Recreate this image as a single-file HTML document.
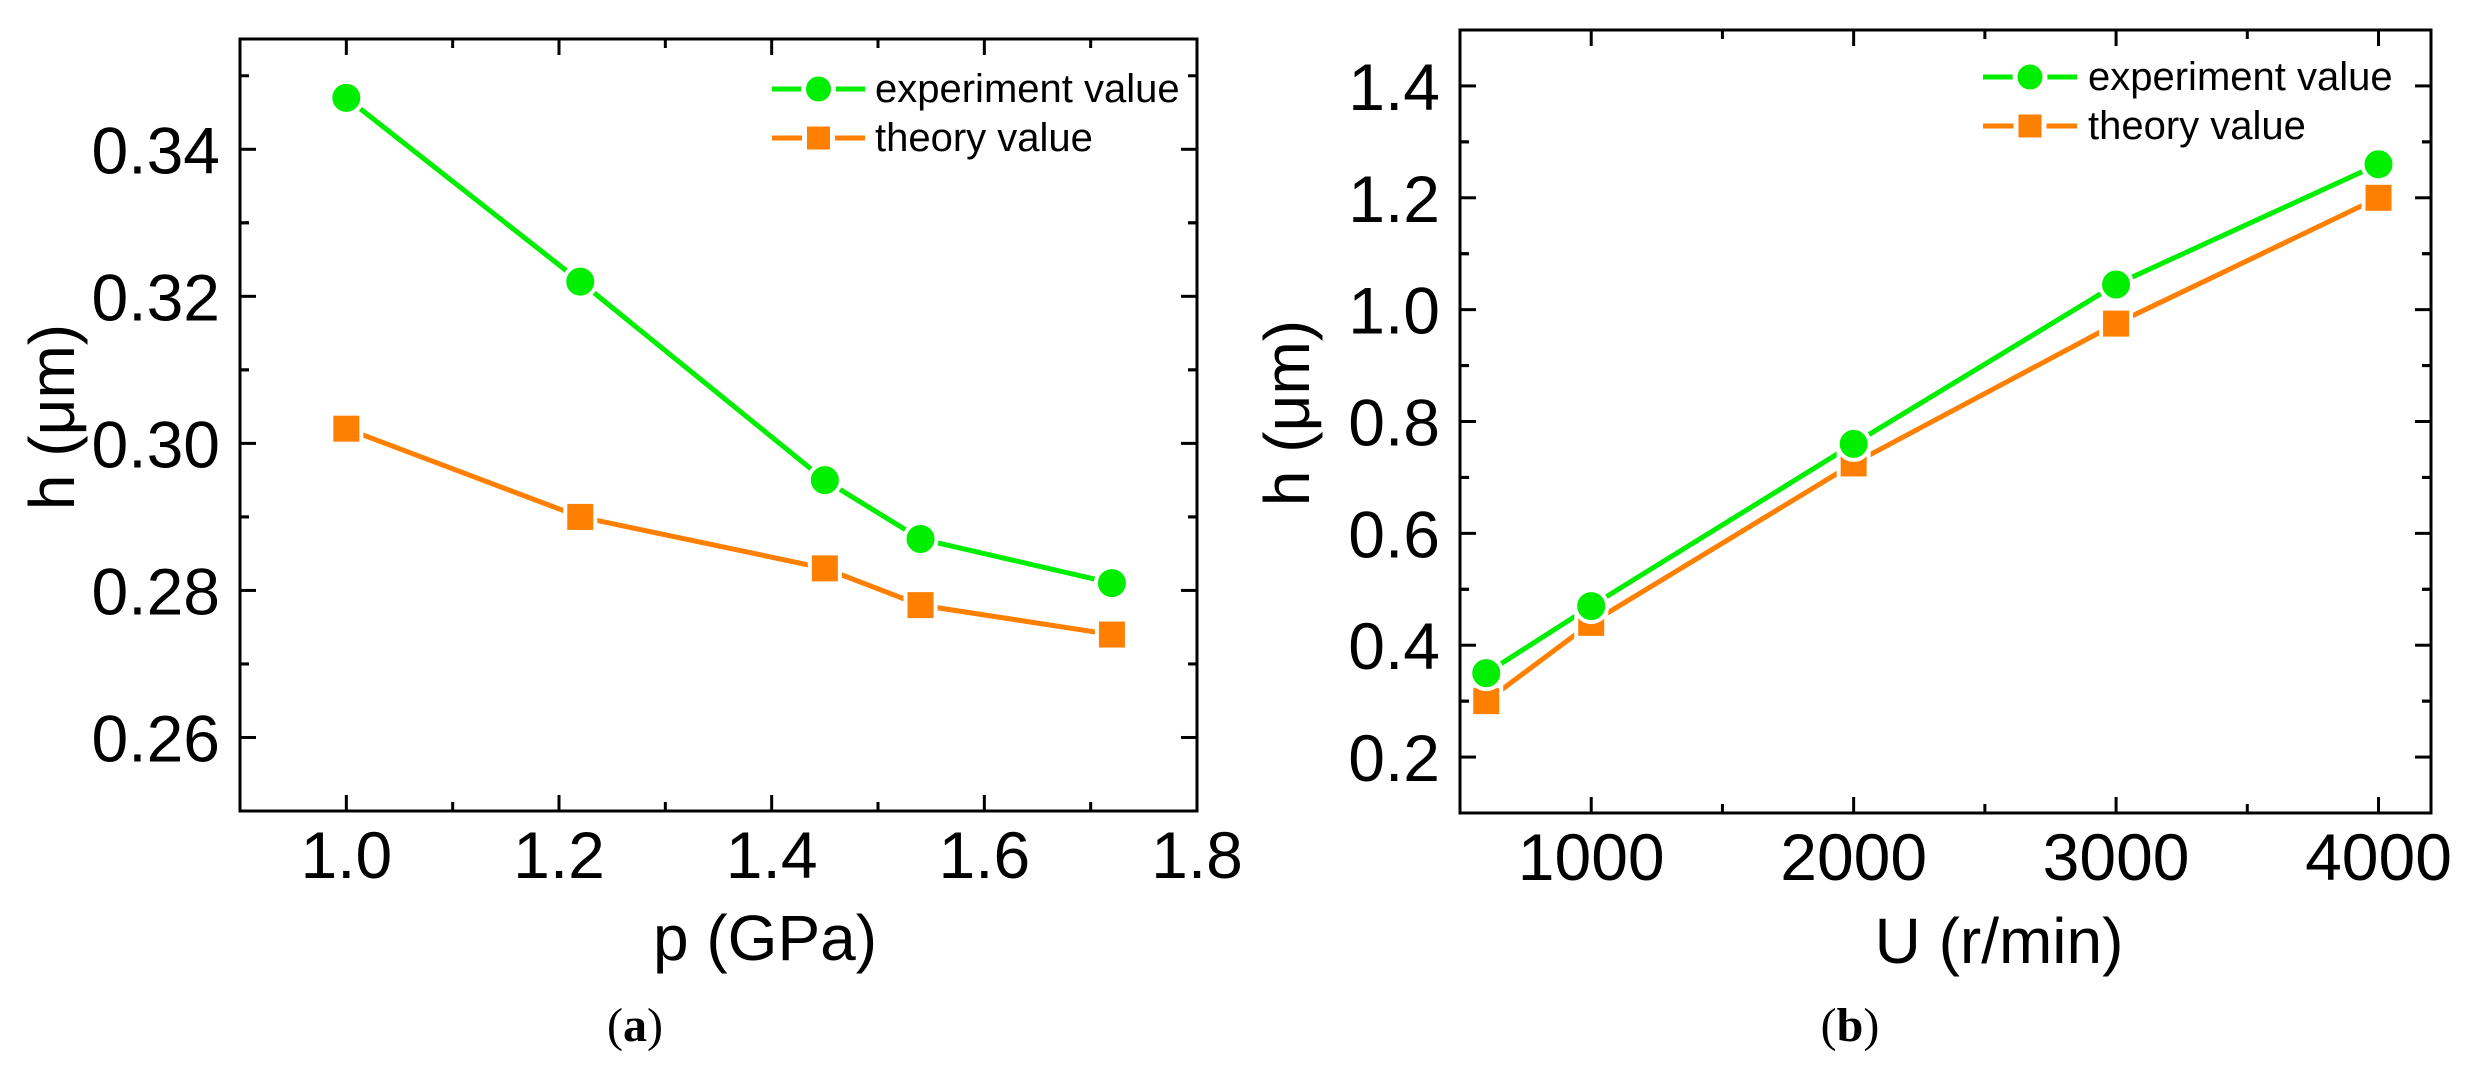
<!DOCTYPE html>
<html><head><meta charset="utf-8"><style>
html,body{margin:0;padding:0;background:#fff;}
svg{display:block;font-family:"Liberation Sans",Arial,sans-serif;}
</style></head><body>
<svg id="fig" width="2466" height="1079" viewBox="0 0 2466 1079" xmlns="http://www.w3.org/2000/svg">
<g id="pa"></g>
<g id="pb"></g>
<text x="635" y="1041" font-family="Liberation Serif, serif" font-size="48" text-anchor="middle">(<tspan font-weight="bold">a</tspan>)</text>
<text x="1850" y="1041" font-family="Liberation Serif, serif" font-size="48" text-anchor="middle">(<tspan font-weight="bold">b</tspan>)</text>
</svg>
<script>
// Chart A data
const aX = [1.0, 1.22, 1.45, 1.54, 1.72];
const aExp = [0.347, 0.322, 0.295, 0.287, 0.281];
const aThe = [0.302, 0.290, 0.283, 0.278, 0.274];
const aXTicks = [1.0, 1.2, 1.4, 1.6, 1.8];
const aXTickLabels = ["1.0","1.2","1.4","1.6","1.8"];
const aYTicks = [0.26, 0.28, 0.30, 0.32, 0.34];
const aYTickLabels = ["0.26","0.28","0.30","0.32","0.34"];
// Chart B data
const bX = [600, 1000, 2000, 3000, 4000];
const bExp = [0.35, 0.47, 0.76, 1.045, 1.26];
const bThe = [0.30, 0.44, 0.725, 0.975, 1.20];
const bXTicks = [1000, 2000, 3000, 4000];
const bXTickLabels = ["1000","2000","3000","4000"];
const bYTicks = [0.2, 0.4, 0.6, 0.8, 1.0, 1.2, 1.4];
const bYTickLabels = ["0.2","0.4","0.6","0.8","1.0","1.2","1.4"];

const NS = "http://www.w3.org/2000/svg";
function mk(parent, tag, attrs){const e=document.createElementNS(NS,tag);for(const k in attrs)e.setAttribute(k,attrs[k]);parent.appendChild(e);return e;}

function drawChart(g, cfg){
  const sx=v=>cfg.L+(v-cfg.x0)/(cfg.x1-cfg.x0)*(cfg.R-cfg.L);
  const sy=v=>cfg.B-(v-cfg.y0)/(cfg.y1-cfg.y0)*(cfg.B-cfg.T);
  const frame=mk(g,'rect',{x:cfg.L,y:cfg.T,width:cfg.R-cfg.L,height:cfg.B-cfg.T,fill:'none',stroke:'#000','stroke-width':3});
  
  
  cfg.xTicks.forEach((v,i)=>{
    const x=sx(v);
    [[cfg.B,cfg.B-16],[cfg.T,cfg.T+16]].forEach(p=>{const t=mk(g,'line',{x1:x,x2:x,y1:p[0],y2:p[1],stroke:'#000','stroke-width':3});
      
      });
    const m=v-cfg.xMinor;
    if(m>cfg.x0+1e-9){const xm=sx(m);[[cfg.B,cfg.B-9],[cfg.T,cfg.T+9]].forEach(p=>{const t=mk(g,'line',{x1:xm,x2:xm,y1:p[0],y2:p[1],stroke:'#000','stroke-width':3});
      
      });}
    const lb=mk(g,'text',{x:x,y:cfg.B+67,'font-size':66,'text-anchor':'middle'});
    lb.textContent=cfg.xLabels[i];
    
    
  });
  cfg.yTicks.forEach((v,i)=>{
    const y=sy(v);
    [[cfg.L,cfg.L+16],[cfg.R,cfg.R-16]].forEach(p=>{const t=mk(g,'line',{x1:p[0],x2:p[1],y1:y,y2:y,stroke:'#000','stroke-width':3});
      
      });
    [v-cfg.yMinor, v+cfg.yMinor].forEach(m=>{ if(m>cfg.y0+1e-9 && m<cfg.y1-1e-9){const ym=sy(m);[[cfg.L,cfg.L+9],[cfg.R,cfg.R-9]].forEach(p=>{const t=mk(g,'line',{x1:p[0],x2:p[1],y1:ym,y2:ym,stroke:'#000','stroke-width':3});
      
      });}});
    const lb=mk(g,'text',{x:cfg.L-20,y:y+24,'font-size':66,'text-anchor':'end'});
    lb.textContent=cfg.yLabels[i];
    
    
  });
  const xt=mk(g,'text',{x:cfg.xtX,y:cfg.xtY,'font-size':64,'text-anchor':'middle'});
  xt.textContent=cfg.xTitle;
  
  
  const yt=mk(g,'text',{x:0,y:0,'font-size':64,'text-anchor':'middle',transform:`translate(${cfg.ytX},${cfg.ytY}) rotate(-90)`});
  yt.textContent='h (\u03bcm)';
  
  
  const series=[[cfg.the,'#ff7f00','sq','theory'],[cfg.exp,'#00ee00','ci','experiment']];
  series.forEach(s=>{
    const pts=cfg.xs.map((x,i)=>sx(x)+','+sy(s[0][i])).join(' ');
    const pl=mk(g,'polyline',{points:pts,fill:'none',stroke:s[1],'stroke-width':5});
    
    
  });
  series.forEach(s=>{
    cfg.xs.forEach((x,i)=>{
      const cx=sx(x), cy=sy(s[0][i]);
      let m;
      if(s[2]==='ci') m=mk(g,'circle',{cx:cx,cy:cy,r:16,fill:s[1],stroke:'#fff','stroke-width':4});
      else m=mk(g,'rect',{x:cx-15,y:cy-15,width:30,height:30,fill:s[1],stroke:'#fff','stroke-width':4});
      
      
    });
  });
  const lg=cfg.leg;
  [[lg.y1,'#00ee00','ci','experiment value'],[lg.y2,'#ff7f00','sq','theory value']].forEach(r=>{
    const ln=mk(g,'line',{x1:lg.x0,x2:lg.x1,y1:r[0],y2:r[0],stroke:r[1],'stroke-width':5});
    
    
    const cx=(lg.x0+lg.x1)/2; let m;
    if(r[2]==='ci') m=mk(g,'circle',{cx:cx,cy:r[0],r:15,fill:r[1],stroke:'#fff','stroke-width':5});
    else m=mk(g,'rect',{x:cx-14,y:r[0]-14,width:28,height:28,fill:r[1],stroke:'#fff','stroke-width':5});
    
    
    const t=mk(g,'text',{x:lg.tx,y:r[0]+13,'font-size':40});
    t.textContent=r[3];
    
    
  });
}

drawChart(document.getElementById('pa'),{L:240,R:1197,T:39,B:811,x0:0.9,x1:1.8,y0:0.25,y1:0.355,
  xTicks:aXTicks,xLabels:aXTickLabels,xMinor:0.1,yTicks:aYTicks,yLabels:aYTickLabels,yMinor:0.01,
  xs:aX,exp:aExp,the:aThe,xTitle:'p (GPa)',xtX:765,xtY:960,ytX:74,ytY:417,
  leg:{x0:772,x1:865,tx:875,y1:89,y2:138}});
drawChart(document.getElementById('pb'),{L:1460,R:2431,T:30,B:813,x0:500,x1:4200,y0:0.1,y1:1.5,
  xTicks:bXTicks,xLabels:bXTickLabels,xMinor:500,yTicks:bYTicks,yLabels:bYTickLabels,yMinor:0.1,
  xs:bX,exp:bExp,the:bThe,xTitle:'U (r/min)',xtX:1999,xtY:963,ytX:1309,ytY:413,
  leg:{x0:1983,x1:2077,tx:2088,y1:77,y2:126}});
</script>
</body></html>
